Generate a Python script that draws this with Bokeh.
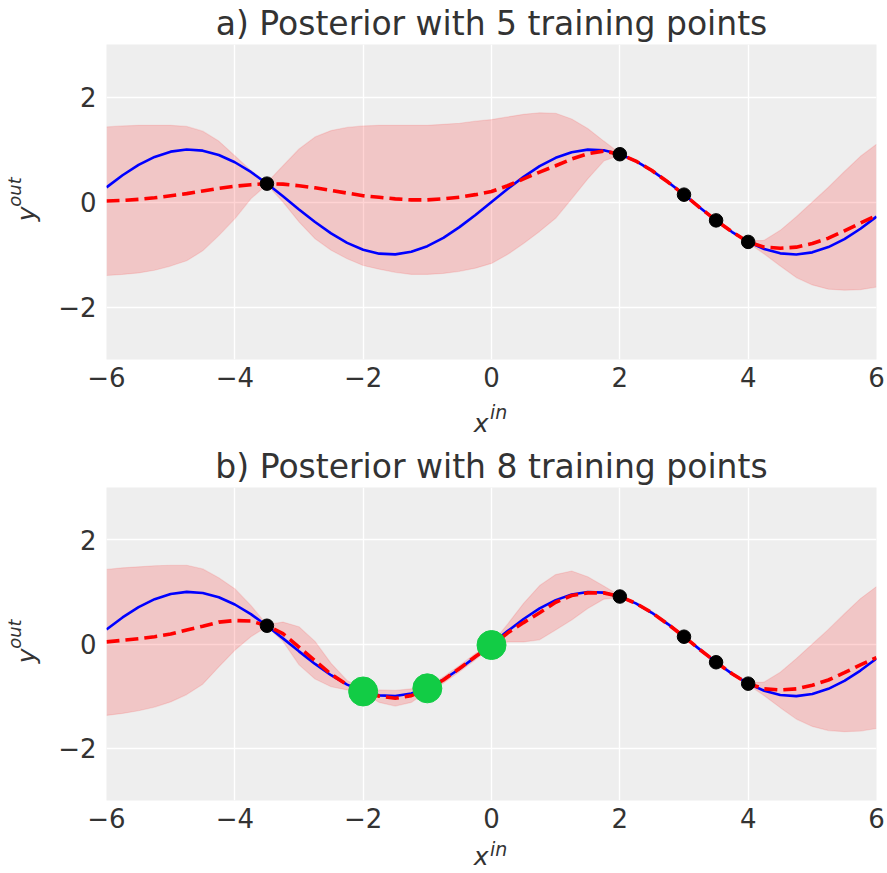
from bokeh.plotting import figure
from bokeh.layouts import column
from bokeh.models import Range1d, FixedTicker, ColumnDataSource, LinearAxis
from bokeh.embed import file_html
from bokeh.resources import INLINE

# ---------------- data ----------------
x_grid = [-6.0, -5.75, -5.5, -5.25, -5.0, -4.75, -4.5, -4.25, -4.0, -3.75, -3.5, -3.25,
          -3.0, -2.75, -2.5, -2.25, -2.0, -1.75, -1.5, -1.25, -1.0, -0.75, -0.5, -0.25,
          0.0, 0.25, 0.5, 0.75, 1.0, 1.25, 1.5, 1.75, 2.0, 2.25, 2.5, 2.75, 3.0, 3.25,
          3.5, 3.75, 4.0, 4.25, 4.5, 4.75, 5.0, 5.25, 5.5, 5.75, 6.0]

true_f = [0.279, 0.509, 0.706, 0.859, 0.959, 0.999, 0.978, 0.895, 0.757, 0.572, 0.351, 0.108,
          -0.141, -0.382, -0.598, -0.778, -0.909, -0.984, -0.997, -0.949, -0.841, -0.682, -0.479, -0.247,
          0.0, 0.247, 0.479, 0.682, 0.841, 0.949, 0.997, 0.984, 0.909, 0.778, 0.598, 0.382, 0.141, -0.108,
          -0.351, -0.572, -0.757, -0.895, -0.978, -0.999, -0.959, -0.859, -0.706, -0.509, -0.279]

# panel a) posterior with 5 training points
mean_a = [0.02, 0.03, 0.05, 0.08, 0.12, 0.16, 0.21, 0.26, 0.30, 0.33, 0.35, 0.34,
          0.31, 0.27, 0.22, 0.17, 0.12, 0.09, 0.06, 0.04, 0.04, 0.06, 0.09, 0.14,
          0.20, 0.31, 0.44, 0.57, 0.69, 0.82, 0.92, 0.97, 0.91, 0.78, 0.60, 0.38, 0.14, -0.11,
          -0.35, -0.57, -0.76, -0.86, -0.88, -0.86, -0.79, -0.69, -0.55, -0.40, -0.26]
upper_a = [1.43, 1.45, 1.46, 1.46, 1.46, 1.44, 1.35, 1.16, 0.88, 0.60, 0.37, 0.69,
           1.01, 1.24, 1.36, 1.42, 1.45, 1.46, 1.46, 1.46, 1.46, 1.48, 1.50, 1.54,
           1.57, 1.62, 1.67, 1.70, 1.69, 1.58, 1.40, 1.16, 0.93, 0.80, 0.63, 0.41, 0.16, -0.09,
           -0.33, -0.55, -0.74, -0.73, -0.54, -0.28, 0.00, 0.28, 0.58, 0.87, 1.10]
lower_a = [-1.40, -1.38, -1.35, -1.30, -1.22, -1.12, -0.93, -0.64, -0.32, 0.06, 0.33, 0.00,
           -0.38, -0.70, -0.92, -1.08, -1.21, -1.28, -1.34, -1.38, -1.38, -1.36, -1.32, -1.26,
           -1.17, -1.00, -0.79, -0.56, -0.31, 0.06, 0.44, 0.78, 0.89, 0.76, 0.57, 0.35, 0.12, -0.13,
           -0.37, -0.59, -0.78, -0.99, -1.22, -1.44, -1.58, -1.66, -1.68, -1.67, -1.62]

# panel b) posterior with 8 training points
mean_b = [0.04, 0.07, 0.10, 0.14, 0.19, 0.27, 0.34, 0.42, 0.45, 0.44, 0.35, 0.20,
          -0.06, -0.32, -0.58, -0.78, -0.90, -1.00, -1.04, -0.99, -0.87, -0.69, -0.47, -0.24,
          -0.03, 0.21, 0.41, 0.60, 0.80, 0.93, 0.98, 0.98, 0.91, 0.78, 0.60, 0.38, 0.14, -0.11,
          -0.35, -0.57, -0.76, -0.86, -0.88, -0.86, -0.79, -0.69, -0.55, -0.40, -0.26]
upper_b = [1.43, 1.46, 1.48, 1.50, 1.51, 1.51, 1.44, 1.27, 1.06, 0.74, 0.37, 0.42,
           0.33, 0.05, -0.37, -0.70, -0.87, -0.88, -0.89, -0.86, -0.83, -0.63, -0.41, -0.18,
           0.00, 0.38, 0.78, 1.12, 1.33, 1.40, 1.29, 1.11, 0.93, 0.80, 0.63, 0.41, 0.16, -0.09,
           -0.33, -0.55, -0.74, -0.73, -0.54, -0.28, 0.00, 0.28, 0.58, 0.87, 1.10]
lower_b = [-1.37, -1.33, -1.28, -1.21, -1.11, -0.97, -0.77, -0.44, -0.12, 0.14, 0.33, 0.05,
           -0.40, -0.67, -0.82, -0.88, -0.93, -1.12, -1.19, -1.12, -0.91, -0.75, -0.53, -0.30,
           -0.06, 0.04, 0.04, 0.08, 0.27, 0.46, 0.68, 0.86, 0.89, 0.76, 0.57, 0.35, 0.12, -0.13,
           -0.37, -0.59, -0.78, -0.99, -1.22, -1.44, -1.58, -1.66, -1.68, -1.67, -1.62]

train_x = [-3.5, 2.0, 3.0, 3.5, 4.0]
train_y = [0.35, 0.91, 0.14, -0.35, -0.76]
new_x = [-2.0, -1.0, 0.0]
new_y = [-0.91, -0.85, -0.02]

x_ticks = [-6, -4, -2, 0, 2, 4, 6]
y_ticks = [-2, 0, 2]
x_tick_labels = ["\u22126", "\u22124", "\u22122", "0", "2", "4", "6"]
y_tick_labels = ["\u22122", "0", "2"]

titles = ["a) Posterior with 5 training points", "b) Posterior with 8 training points"]
x_label_main, x_label_sup = "x", "in"
y_label_main, y_label_sup = "y", "out"

FONT = "DejaVu Sans"
TEXT = "#333333"
X_MAIN_POS = -0.16   # where the "x" of x^in sits (data units)
X_SUP_POS = 0.11     # where the "in" of x^in sits (data units)
Y_SUP_POS = 0.19     # where the "out" of y^out sits (data units)


def bare(ax):
    ax.axis_line_color = None
    ax.major_tick_line_color = None
    ax.minor_tick_line_color = None
    ax.major_tick_out = 0
    ax.major_tick_in = 0


def label_axis(pos, text, size, standoff, orientation="horizontal"):
    ax = LinearAxis(ticker=FixedTicker(ticks=[pos]),
                    major_label_overrides={pos: text},
                    major_label_orientation=orientation,
                    major_label_standoff=standoff,
                    major_label_text_font=FONT, major_label_text_font_size=size,
                    major_label_text_font_style="italic", major_label_text_color=TEXT)
    bare(ax)
    return ax


def make_panel(title, mean, lower, upper, height, top, bottom, show_new, x_shift):
    p = figure(width=887, height=height, x_range=Range1d(-6, 6), y_range=Range1d(-3, 3),
               output_backend="svg", toolbar_location=None,
               min_border_left=106, min_border_right=11,
               min_border_top=top, min_border_bottom=bottom)
    p.background_fill_color = "#EEEEEE"
    p.border_fill_color = "white"
    p.outline_line_color = None

    p.title.text = title
    p.title.align = "center"
    p.title.text_font = FONT
    p.title.text_font_size = "33px"
    p.title.text_font_style = "normal"
    p.title.text_color = TEXT
    p.title.standoff = 3

    src = ColumnDataSource(dict(x=x_grid, f=true_f, m=mean, lo=lower, hi=upper))
    p.varea(x="x", y1="lo", y2="hi", source=src, fill_color="red", fill_alpha=0.17)
    p.line(x="x", y="lo", source=src, line_color="red", line_alpha=0.1, line_width=1.2)
    p.line(x="x", y="hi", source=src, line_color="red", line_alpha=0.1, line_width=1.2)
    p.line(x="x", y="f", source=src, line_color="blue", line_width=2.6)
    p.line(x="x", y="m", source=src, line_color="red", line_width=3.6, line_dash="13 6")
    p.scatter(x=train_x, y=train_y, size=13.5, fill_color="black", line_color="black")
    if show_new:
        p.scatter(x=new_x, y=new_y, size=29, fill_color="#12CC45", line_color="#12CC45")

    p.xaxis.ticker = FixedTicker(ticks=x_ticks)
    p.yaxis.ticker = FixedTicker(ticks=y_ticks)
    p.xaxis.major_label_overrides = {t: s for t, s in zip(x_ticks, x_tick_labels)}
    p.yaxis.major_label_overrides = {t: s for t, s in zip(y_ticks, y_tick_labels)}
    for ax in (p.xaxis, p.yaxis):
        bare(ax)
        ax.major_label_text_font = FONT
        ax.major_label_text_font_size = "26px"
        ax.major_label_text_color = TEXT
        ax.axis_label_text_font = FONT
        ax.axis_label_text_font_style = "italic"
        ax.axis_label_text_color = TEXT
    p.xaxis.major_label_standoff = 7
    p.yaxis.major_label_standoff = 10

    # x^in : raised "in", then "x" on a further axis pulled back up beside it
    p.add_layout(label_axis(X_SUP_POS, x_label_sup, "19px", 11 - x_shift), "below")
    p.add_layout(label_axis(X_MAIN_POS, x_label_main, "25px", -17 - x_shift), "below")

    # y^out : "y" as the axis label, "out" on an extra axis pulled back in
    p.yaxis.axis_label = y_label_main + "   "
    p.yaxis.axis_label_text_font_size = "25px"
    p.yaxis.axis_label_standoff = 14
    p.add_layout(label_axis(Y_SUP_POS, y_label_sup, "18px", -16, "vertical"), "left")

    p.grid.grid_line_color = "white"
    p.grid.grid_line_width = 1.4
    p.xgrid.ticker = FixedTicker(ticks=x_ticks)
    p.ygrid.ticker = FixedTicker(ticks=y_ticks)
    return p


p1 = make_panel(titles[0], mean_a, lower_a, upper_a, 440, 44, 78, False, 0)
p2 = make_panel(titles[1], mean_b, lower_b, upper_b, 433, 47, 70, True, 4)

layout = column(p1, p2, spacing=0)
open("out.html", "w").write(file_html(layout, INLINE))
